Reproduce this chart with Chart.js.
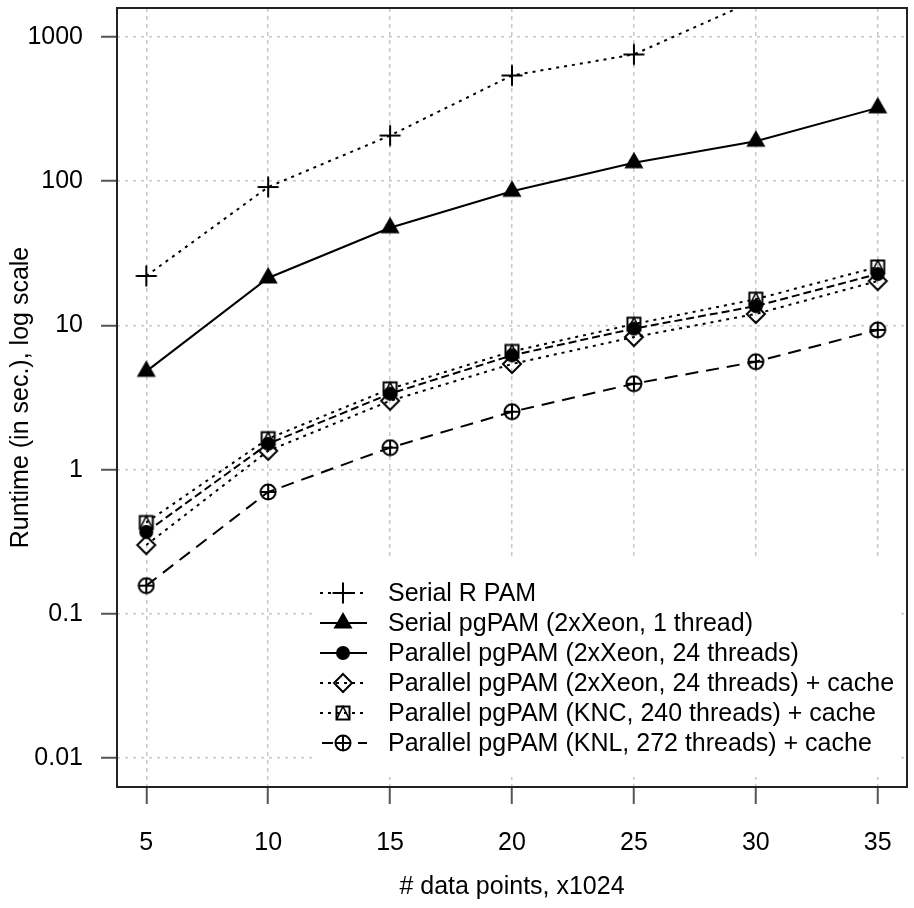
<!DOCTYPE html>
<html>
<head>
<meta charset="utf-8">
<script src="https://cdn.jsdelivr.net/npm/chart.js@4"></script>
<style>
  html, body { margin: 0; padding: 0; background: #fff; }
  #chart { display: block; }
</style>
</head>
<body>
<canvas id="chart" width="914" height="908"></canvas>
<script>
// # data points (x1024)
const dataPoints = [5, 10, 15, 20, 25, 30, 35];

// runtime in seconds
const serialR = [22, 91, 207, 540, 755, 1800, null];
const serialPg = [4.8, 21.3, 47.5, 85, 134, 189, 322];
const parallelXeon = [0.37, 1.51, 3.36, 6.2, 9.5, 13.6, 22.7];
const parallelXeonCache = [0.30, 1.35, 3.0, 5.4, 8.3, 12.0, 20.3];
const parallelKnc = [0.43, 1.64, 3.63, 6.6, 10.2, 15.2, 25.4];
const parallelKnl = [0.157, 0.70, 1.42, 2.52, 3.94, 5.6, 9.3];

const yTicks = [0.01, 0.1, 1, 10, 100, 1000];

const seriesLabels = [
  'Serial R PAM',
  'Serial pgPAM (2xXeon, 1 thread)',
  'Parallel pgPAM (2xXeon, 24 threads)',
  'Parallel pgPAM (2xXeon, 24 threads) + cache',
  'Parallel pgPAM (KNC, 240 threads) + cache',
  'Parallel pgPAM (KNL, 272 threads) + cache',
];

const FONT = '"Liberation Sans", Arial, Helvetica, sans-serif';

function makeMarker(size, draw) {
  const c = document.createElement('canvas');
  c.width = size;
  c.height = size;
  const ctx = c.getContext('2d');
  ctx.strokeStyle = '#000';
  ctx.fillStyle = '#000';
  ctx.lineWidth = 2;
  draw(ctx, size / 2);
  return c;
}

const markers = {
  plus: makeMarker(24, (ctx, m) => {
    ctx.beginPath();
    ctx.moveTo(m - 10.5, m); ctx.lineTo(m + 10.5, m);
    ctx.moveTo(m, m - 10.5); ctx.lineTo(m, m + 10.5);
    ctx.stroke();
  }),
  triangle: makeMarker(24, (ctx, m) => {
    const r = 11;
    ctx.beginPath();
    ctx.moveTo(m, m - r);
    ctx.lineTo(m + r * 0.866, m + r / 2);
    ctx.lineTo(m - r * 0.866, m + r / 2);
    ctx.closePath();
    ctx.fill();
  }),
  dot: makeMarker(16, (ctx, m) => {
    ctx.beginPath();
    ctx.arc(m, m, 7, 0, Math.PI * 2);
    ctx.fill();
  }),
  diamond: makeMarker(22, (ctx, m) => {
    const r = 9;
    ctx.beginPath();
    ctx.moveTo(m, m - r); ctx.lineTo(m + r, m);
    ctx.lineTo(m, m + r); ctx.lineTo(m - r, m);
    ctx.closePath();
    ctx.stroke();
  }),
  squareTri: makeMarker(18, (ctx, m) => {
    const h = 6.5;
    ctx.strokeRect(m - h, m - h, h * 2, h * 2);
    ctx.lineWidth = 1.6;
    ctx.beginPath();
    ctx.moveTo(m - h, m + h); ctx.lineTo(m, m - h); ctx.lineTo(m + h, m + h);
    ctx.stroke();
  }),
  circlePlus: makeMarker(18, (ctx, m) => {
    const r = 7.5;
    ctx.beginPath();
    ctx.arc(m, m, r, 0, Math.PI * 2);
    ctx.moveTo(m - r, m); ctx.lineTo(m + r, m);
    ctx.moveTo(m, m - r); ctx.lineTo(m, m + r);
    ctx.stroke();
  }),
};

const seriesValues = [serialR, serialPg, parallelXeon, parallelXeonCache, parallelKnc, parallelKnl];
const seriesMarkers = [markers.plus, markers.triangle, markers.dot, markers.diamond, markers.squareTri, markers.circlePlus];
const seriesDash = [[3, 5], [], [8, 4], [3, 5], [3, 5], [13, 8]];
const legendDash = [[3, 5], [], [], [3, 5], [3, 5], [11, 25]];

const datasets = seriesValues.map((values, i) => ({
  label: seriesLabels[i],
  data: dataPoints.map((x, j) => ({ x, y: values[j] })),
  borderColor: '#000',
  backgroundColor: '#000',
  borderWidth: 2,
  borderDash: seriesDash[i],
  pointStyle: seriesMarkers[i],
  pointRadius: 5,
  tension: 0,
  spanGaps: false,
}));

const legendPlugin = {
  id: 'rLegend',
  afterDatasetsDraw(chart) {
    const ctx = chart.ctx;
    ctx.save();
    ctx.fillStyle = '#fff';
    ctx.fillRect(313, 558, 587, 219);
    ctx.strokeStyle = '#000';
    ctx.lineWidth = 2;
    ctx.font = '25px ' + FONT;
    ctx.textBaseline = 'middle';
    ctx.fillStyle = '#000';
    chart.data.datasets.forEach((ds, i) => {
      const y = 593 + i * 30;
      ctx.setLineDash(legendDash[i]);
      ctx.lineDashOffset = i === 5 ? -2 : 0;
      ctx.beginPath();
      ctx.moveTo(320, y);
      ctx.lineTo(367, y);
      ctx.stroke();
      const m = ds.pointStyle;
      ctx.drawImage(m, 343 - m.width / 2, y - m.height / 2);
      ctx.fillText(ds.label, 388, y + 1);
    });
    ctx.restore();
  },
};

const boxPlugin = {
  id: 'plotBox',
  afterDraw(chart) {
    const { left, top, right, bottom } = chart.chartArea;
    const ctx = chart.ctx;
    ctx.save();
    ctx.strokeStyle = '#222';
    ctx.lineWidth = 2;
    ctx.setLineDash([]);
    ctx.strokeRect(left, top, right - left, bottom - top);
    ctx.restore();
  },
};

Chart.defaults.font.family = FONT;
Chart.defaults.color = '#000';

new Chart(document.getElementById('chart'), {
  type: 'line',
  data: { datasets },
  options: {
    responsive: false,
    animation: false,
    events: [],
    devicePixelRatio: 1,
    layout: { padding: { top: 8, right: 2, left: 0, bottom: 0 } },
    plugins: {
      legend: { display: false },
      tooltip: { enabled: false },
    },
    scales: {
      x: {
        type: 'linear',
        position: 'bottom',
        min: 3.8,
        max: 36.2,
        afterBuildTicks: (s) => { s.ticks = dataPoints.map((v) => ({ value: v })); },
        afterFit: (s) => { s.height = 121; s.paddingLeft = 0; s.paddingRight = 0; },
        ticks: { font: { size: 25 }, padding: 24, autoSkip: false, maxRotation: 0, color: '#000' },
        grid: {
          color: '#c8c8c8',
          lineWidth: 1.5,
          tickColor: '#555',
          tickWidth: 2,
          tickLength: 17,
          tickBorderDash: [],
        },
        border: { display: false, dash: [4, 4] },
        title: { display: true, text: '# data points, x1024', font: { size: 25 }, padding: { top: 0, bottom: 6 }, color: '#000' },
      },
      y: {
        type: 'logarithmic',
        position: 'left',
        min: Math.pow(10, -2.2),
        max: Math.pow(10, 3.2),
        afterBuildTicks: (s) => { s.ticks = yTicks.map((v) => ({ value: v })); },
        afterFit: (s) => { s.width = 117; s.paddingTop = 0; s.paddingBottom = 0; },
        ticks: {
          font: { size: 25 },
          padding: 18,
          color: '#000',
          autoSkip: false,
          callback: (v) => String(v),
        },
        grid: {
          color: '#c8c8c8',
          lineWidth: 1.5,
          tickColor: '#555',
          tickWidth: 2,
          tickLength: 16,
          tickBorderDash: [],
        },
        border: { display: false, dash: [3, 5] },
        title: { display: true, text: 'Runtime (in sec.), log scale', font: { size: 25 }, padding: { top: 6, bottom: 0 }, color: '#000' },
      },
    },
  },
  plugins: [legendPlugin, boxPlugin],
});
</script>
</body>
</html>
